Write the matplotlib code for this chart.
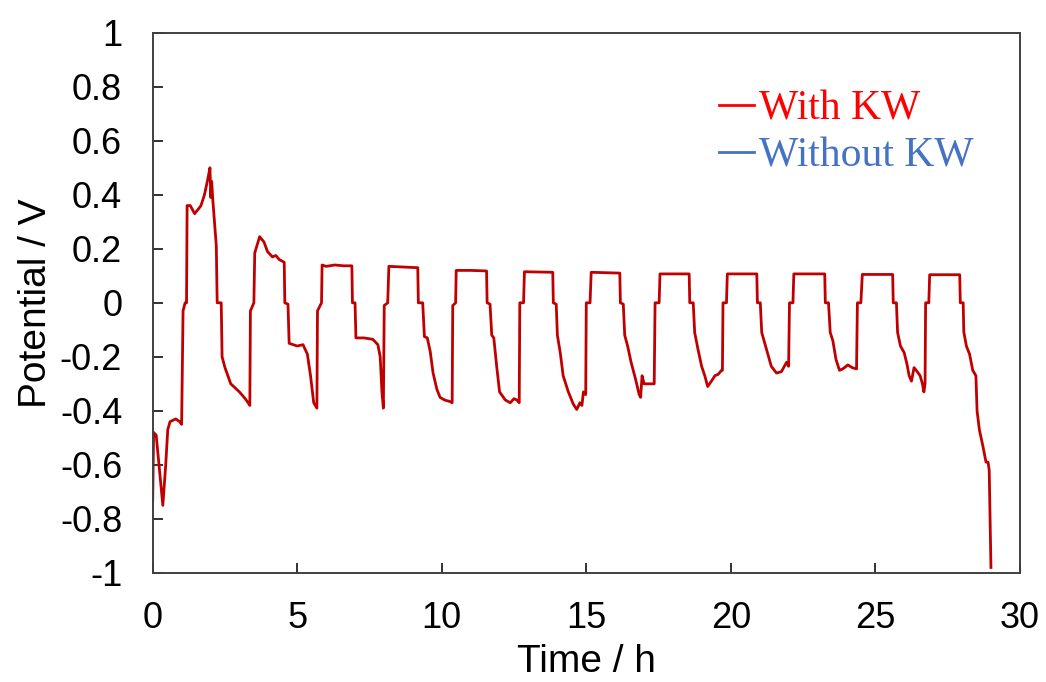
import matplotlib
matplotlib.use("Agg")
import matplotlib.pyplot as plt
from matplotlib.lines import Line2D
from matplotlib.ticker import FuncFormatter

plt.rcParams["font.family"] = ["Liberation Sans", "DejaVu Sans"]
plt.rcParams["axes.unicode_minus"] = False

# Potential vs. time, cell with KW
time_h = [
    0.0, 0.03, 0.12, 0.2, 0.35, 0.45, 0.52, 0.6, 0.8, 0.93, 1.0, 1.05, 1.12, 1.17,
    1.19, 1.3, 1.45, 1.6, 1.67, 1.79, 1.9, 1.98, 2.01, 2.04, 2.08, 2.2, 2.23, 2.37,
    2.4, 2.5, 2.6, 2.7, 3.0, 3.2, 3.3, 3.36, 3.38, 3.5, 3.53, 3.6, 3.7, 3.85, 3.97,
    4.14, 4.26, 4.38, 4.55, 4.57, 4.68, 4.72, 5.0, 5.2, 5.35, 5.46, 5.57, 5.68, 5.7,
    5.84, 5.86, 6.0, 6.3, 6.6, 6.89, 6.91, 7.0, 7.03, 7.3, 7.61, 7.79, 7.87, 7.93,
    7.98, 8.01, 8.13, 8.17, 8.6, 9.17, 9.19, 9.34, 9.4, 9.5, 9.6, 9.7, 9.83, 9.94,
    10.1, 10.27, 10.36, 10.38, 10.48, 10.5, 11.0, 11.55, 11.57, 11.67, 11.73, 11.8,
    11.9, 12.0, 12.2, 12.37, 12.5, 12.6, 12.68, 12.7, 12.83, 12.86, 13.84, 13.86,
    13.96, 14.0, 14.1, 14.2, 14.38, 14.55, 14.67, 14.78, 14.85, 14.9, 14.98, 15.0,
    15.13, 15.17, 16.16, 16.18, 16.28, 16.33, 16.43, 16.55, 16.71, 16.83, 16.88,
    16.93, 17.0, 17.2, 17.35, 17.38, 17.52, 17.55, 18.56, 18.58, 18.7, 18.75, 18.87,
    18.99, 19.1, 19.2, 19.33, 19.45, 19.56, 19.68, 19.71, 19.73, 19.85, 19.88, 20.9,
    20.92, 21.02, 21.07, 21.24, 21.4, 21.58, 21.75, 21.93, 22.0, 22.03, 22.15, 22.18,
    23.25, 23.27, 23.38, 23.44, 23.53, 23.64, 23.76, 23.87, 24.05, 24.2, 24.35, 24.38,
    24.5, 24.55, 25.6, 25.62, 25.73, 25.77, 25.87, 26.0, 26.1, 26.17, 26.25, 26.34,
    26.45, 26.55, 26.63, 26.68, 26.72, 26.74, 26.85, 26.88, 27.92, 27.94, 28.04,
    28.06, 28.15, 28.26, 28.37, 28.48, 28.52, 28.6, 28.72, 28.83, 28.9, 28.94, 29.0,
]
potential_v = [
    -0.73, -0.48, -0.49, -0.58, -0.75, -0.6, -0.47, -0.44, -0.43, -0.44, -0.45, -0.03, 0.0, 0.0,
    0.36, 0.36, 0.33, 0.35, 0.36, 0.40, 0.455, 0.50, 0.39, 0.45, 0.38, 0.21, 0.0, 0.0,
    -0.2, -0.24, -0.27, -0.30, -0.33, -0.355, -0.37, -0.38, -0.03, 0.0, 0.185, 0.21, 0.245, 0.225, 0.19,
    0.17, 0.175, 0.16, 0.15, 0.0, -0.005, -0.15, -0.16, -0.155, -0.19, -0.27, -0.37, -0.39, -0.03,
    0.0, 0.14, 0.135, 0.14, 0.137, 0.137, 0.0, 0.0, -0.13, -0.13, -0.135, -0.155, -0.2, -0.33,
    -0.39, -0.01, 0.0, 0.135, 0.133, 0.13, 0.0, 0.0, -0.125, -0.13, -0.18, -0.26, -0.32, -0.35,
    -0.36, -0.365, -0.37, -0.01, 0.0, 0.12, 0.12, 0.118, 0.0, -0.005, -0.12, -0.13,
    -0.235, -0.33, -0.36, -0.37, -0.355, -0.36, -0.37, 0.0, 0.0, 0.115, 0.113, 0.0,
    -0.005, -0.12, -0.185, -0.27, -0.33, -0.375, -0.395, -0.37, -0.38, -0.33, -0.34, 0.0,
    0.0, 0.113, 0.11, 0.0, -0.005, -0.12, -0.16, -0.22, -0.285, -0.34, -0.35,
    -0.27, -0.3, -0.30, -0.30, 0.0, 0.0, 0.107, 0.107, 0.0, 0.0, -0.11, -0.175,
    -0.235, -0.27, -0.31, -0.29, -0.27, -0.265, -0.25, -0.25, 0.0, 0.0, 0.107, 0.107,
    0.0, 0.0, -0.11, -0.175, -0.235, -0.26, -0.255, -0.22, -0.235, 0.0, 0.0, 0.107,
    0.107, 0.0, 0.0, -0.11, -0.14, -0.21, -0.25, -0.245, -0.23, -0.24, -0.245, 0.0,
    0.0, 0.105, 0.105, 0.0, 0.0, -0.11, -0.16, -0.185, -0.23, -0.27, -0.29, -0.24,
    -0.255, -0.27, -0.3, -0.33, -0.3, 0.0, 0.0, 0.104, 0.104, 0.0, 0.0,
    -0.107, -0.16, -0.19, -0.25, -0.27, -0.40, -0.47, -0.53, -0.59, -0.59, -0.62, -0.98,
]

series_labels = ["With KW", "Without KW"]
series_colors = ["#ff0000", "#4472c4"]
x_ticks = [0, 5, 10, 15, 20, 25, 30]
y_ticks = [-1, -0.8, -0.6, -0.4, -0.2, 0, 0.2, 0.4, 0.6, 0.8, 1]

fig = plt.figure(figsize=(10.46, 6.82), dpi=100)
ax = fig.add_axes([0.146, 0.160, 0.829, 0.792])

ax.plot(time_h, potential_v, color="#c00000", linewidth=2.0)

ax.set_xlim(0, 30)
ax.set_ylim(-1, 1)
ax.set_xticks(x_ticks)
ax.set_yticks(y_ticks)
ax.yaxis.set_major_formatter(FuncFormatter(lambda v, p: f"{v:g}"))
ax.tick_params(direction="in", length=7, width=1.3, labelsize=26, pad=22,
               colors="#222222", labelcolor="black")
ax.tick_params(axis="x", pad=20)
for s in ax.spines.values():
    s.set_color("#404040")
    s.set_linewidth(1.4)

ax.set_xlabel("Time / h", fontsize=28, labelpad=6)
ax.set_ylabel("Potential / V", fontsize=28, labelpad=4)

handles = [Line2D([], [], color=c, linewidth=2.0) for c in series_colors]
leg = ax.legend(handles, series_labels, loc="upper left", bbox_to_anchor=(0.629, 0.933),
                frameon=False, borderpad=0, handlelength=0.85, handletextpad=0.1,
                labelspacing=0.2, prop={"family": "Liberation Serif", "size": 30})
for txt, c in zip(leg.get_texts(), series_colors):
    txt.set_color(c)

fig.savefig("out.png", dpi=100)
plt.close(fig)
